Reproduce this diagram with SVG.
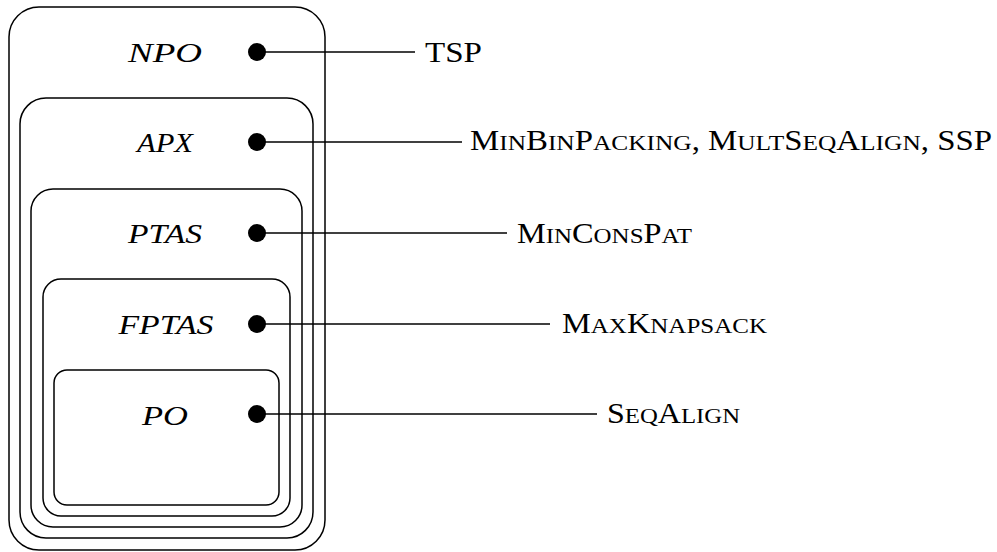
<svg xmlns="http://www.w3.org/2000/svg" width="997" height="552" viewBox="0 0 997 552">
<style>
.box{fill:none;stroke:#000;stroke-width:1.5}
.cls{font-family:"Liberation Serif",serif;font-style:italic;font-size:28px;text-anchor:middle;fill:#000}
.lbl{font-family:"Liberation Serif",serif;font-size:28.5px;fill:#000}
.sc{font-size:22px}
.conn{stroke:#000;stroke-width:1.4;fill:none}
.dot{fill:#000}
</style>
<rect width="997" height="552" fill="#fff"/>
<g id="NPO">
<rect class="box" x="9" y="7" width="316" height="543" rx="30"/>
<text class="cls" x="165" y="62" textLength="74" lengthAdjust="spacingAndGlyphs">NPO</text>
</g>
<g id="APX">
<rect class="box" x="20" y="98" width="293" height="440" rx="26"/>
<text class="cls" x="165" y="152" textLength="56" lengthAdjust="spacingAndGlyphs">APX</text>
</g>
<g id="PTAS">
<rect class="box" x="31" y="189" width="271" height="338" rx="22"/>
<text class="cls" x="165" y="243" textLength="74" lengthAdjust="spacingAndGlyphs">PTAS</text>
</g>
<g id="FPTAS">
<rect class="box" x="43" y="279" width="247" height="237" rx="18"/>
<text class="cls" x="166" y="334" textLength="95" lengthAdjust="spacingAndGlyphs">FPTAS</text>
</g>
<g id="PO">
<rect class="box" x="54" y="370" width="225" height="135" rx="13"/>
<text class="cls" x="165" y="425" textLength="46" lengthAdjust="spacingAndGlyphs">PO</text>
</g>
<g id="connectors">
<line class="conn" x1="257" y1="52" x2="415" y2="52"/>
<line class="conn" x1="257" y1="142" x2="462" y2="142"/>
<line class="conn" x1="257" y1="233" x2="507" y2="233"/>
<line class="conn" x1="257" y1="324" x2="550" y2="324"/>
<line class="conn" x1="257" y1="414" x2="597" y2="414"/>
<circle class="dot" cx="257" cy="52" r="9"/>
<circle class="dot" cx="257" cy="142" r="9"/>
<circle class="dot" cx="257" cy="233" r="9"/>
<circle class="dot" cx="257" cy="324" r="9"/>
<circle class="dot" cx="257" cy="414" r="9"/>
</g>
<g id="labels">
<text class="lbl" x="425" y="62" textLength="57" lengthAdjust="spacingAndGlyphs">TSP</text>
<text class="lbl" x="470" y="150" textLength="522" lengthAdjust="spacingAndGlyphs">M<tspan class="sc">IN</tspan>B<tspan class="sc">IN</tspan>P<tspan class="sc">ACKING</tspan>, M<tspan class="sc">ULT</tspan>S<tspan class="sc">EQ</tspan>A<tspan class="sc">LIGN</tspan>, SSP</text>
<text class="lbl" x="517" y="243" textLength="175" lengthAdjust="spacingAndGlyphs">M<tspan class="sc">IN</tspan>C<tspan class="sc">ONS</tspan>P<tspan class="sc">AT</tspan></text>
<text class="lbl" x="562" y="333" textLength="205" lengthAdjust="spacingAndGlyphs">M<tspan class="sc">AX</tspan>K<tspan class="sc">NAPSACK</tspan></text>
<text class="lbl" x="607" y="423" textLength="133" lengthAdjust="spacingAndGlyphs">S<tspan class="sc">EQ</tspan>A<tspan class="sc">LIGN</tspan></text>
</g>
</svg>
